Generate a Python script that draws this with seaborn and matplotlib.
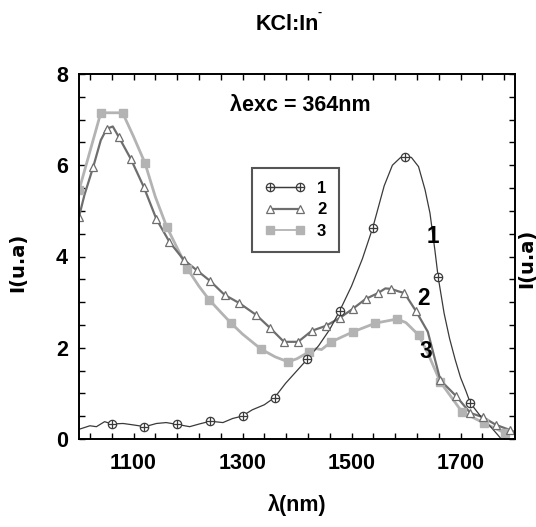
import numpy as np
import pandas as pd
import matplotlib
matplotlib.use('Agg')
import matplotlib.pyplot as plt
import seaborn as sns
from matplotlib import font_manager
from matplotlib.lines import Line2D
from matplotlib.legend_handler import HandlerTuple
from matplotlib.ticker import FixedLocator, MultipleLocator

# curve 1 (KCl:In, band 1) - line trace and marker positions
x1_line = [1002, 1020, 1032, 1047, 1060, 1081, 1099, 1121, 1142, 1160, 1180, 1203, 1221, 1241,
           1264, 1282, 1299, 1318, 1340, 1359, 1379, 1419, 1440, 1460, 1478, 1500, 1520, 1539,
           1560, 1575, 1590, 1600, 1610, 1623, 1635, 1644, 1653, 1659, 1670, 1680, 1690, 1700,
           1710, 1718, 1738, 1756, 1772, 1785]
y1_line = [0.22, 0.29, 0.27, 0.38, 0.33, 0.34, 0.31, 0.27, 0.34, 0.36, 0.32, 0.27, 0.33, 0.39,
           0.36, 0.45, 0.50, 0.64, 0.75, 0.91, 1.22, 1.75, 2.05, 2.40, 2.80, 3.35, 3.95, 4.63,
           5.55, 6.00, 6.17, 6.20, 6.17, 5.97, 5.46, 4.95, 4.14, 3.55, 2.75, 2.20, 1.75, 1.35,
           1.05, 0.79, 0.48, 0.26, 0.04, -0.15]
x1_mark = [1060, 1120, 1179, 1241, 1300, 1360, 1418, 1478, 1539, 1599, 1659, 1718]
y1_mark = [0.33, 0.26, 0.33, 0.39, 0.50, 0.90, 1.75, 2.80, 4.63, 6.18, 3.55, 0.79]

# curve 2
x2_line = [1000, 1010, 1026, 1040, 1051, 1062, 1073, 1095, 1119, 1142, 1166, 1192, 1216, 1241,
           1267, 1294, 1325, 1351, 1376, 1402, 1427, 1453, 1478, 1502, 1526, 1549, 1562, 1573,
           1585, 1597, 1618, 1640, 1663, 1692, 1718, 1741, 1765, 1790, 1800]
y2_line = [4.87, 5.35, 5.96, 6.55, 6.80, 6.85, 6.62, 6.14, 5.52, 4.82, 4.32, 3.93, 3.70, 3.46,
           3.16, 2.98, 2.72, 2.43, 2.13, 2.13, 2.37, 2.48, 2.65, 2.85, 3.07, 3.20, 3.30, 3.29,
           3.24, 3.20, 2.81, 2.35, 1.29, 0.94, 0.57, 0.48, 0.31, 0.20, 0.15]
x2_mark = [1000, 1026, 1051, 1073, 1095, 1119, 1142, 1166, 1192, 1216, 1241, 1267, 1294, 1325,
           1351, 1376, 1402, 1427, 1453, 1478, 1502, 1526, 1549, 1573, 1597, 1618, 1663, 1692,
           1718, 1741, 1765, 1790]
y2_mark = [4.87, 5.96, 6.80, 6.62, 6.14, 5.52, 4.82, 4.32, 3.93, 3.70, 3.46, 3.16, 2.98, 2.72,
           2.43, 2.13, 2.13, 2.37, 2.48, 2.65, 2.85, 3.07, 3.20, 3.29, 3.20, 2.81, 1.29, 0.94,
           0.57, 0.48, 0.31, 0.20]

# curve 3
x3_line = [1000, 1040, 1080, 1100, 1121, 1140, 1161, 1180, 1199, 1220, 1239, 1260, 1279, 1300,
           1334, 1360, 1384, 1400, 1422, 1435, 1445, 1463, 1503, 1544, 1584, 1600, 1623, 1640,
           1663, 1703, 1743, 1782, 1800]
y3_line = [5.45, 7.15, 7.15, 6.63, 6.05, 5.31, 4.65, 4.19, 3.73, 3.35, 3.05, 2.78, 2.54, 2.30,
           1.97, 1.80, 1.69, 1.76, 1.91, 1.98, 1.96, 2.13, 2.35, 2.54, 2.63, 2.55, 2.28, 1.88,
           1.25, 0.59, 0.35, 0.13, 0.13]
x3_mark = [1000, 1040, 1080, 1121, 1161, 1199, 1239, 1279, 1334, 1384, 1422, 1463, 1503, 1544,
           1584, 1623, 1663, 1703, 1743, 1782]
y3_mark = [5.45, 7.15, 7.15, 6.05, 4.65, 3.73, 3.05, 2.54, 1.97, 1.69, 1.91, 2.13, 2.35, 2.54,
           2.63, 2.28, 1.25, 0.59, 0.35, 0.13]

x_major = [1100, 1300, 1500, 1700]
y_major = [0, 2, 4, 6, 8]

sns.set_style('ticks')

# narrow bold face if there is one, otherwise Liberation Sans (Arial metrics)
installed = {f.name for f in font_manager.fontManager.ttflist}
if 'Liberation Sans Narrow' in installed:
    MAIN = 'Liberation Sans Narrow'
    fs = 17.5
else:
    MAIN = 'Liberation Sans'
    fs = 15.5
plt.rcParams['font.family'] = [MAIN, 'DejaVu Sans']
plt.rcParams['font.weight'] = 'bold'
for k in ['text.color', 'axes.labelcolor', 'xtick.color', 'ytick.color']:
    plt.rcParams[k] = 'black'

c1, c2, c3 = '#3a3a3a', '#6e6e6e', '#b3b3b3'

fig = plt.figure(figsize=(5.36, 5.27), dpi=100)
ax = fig.add_axes([79 / 536, 88 / 527, 436 / 536, 365 / 527])

df1 = pd.DataFrame({'x': x1_line, 'y': y1_line})
df2 = pd.DataFrame({'x': x2_line, 'y': y2_line})
df3 = pd.DataFrame({'x': x3_line, 'y': y3_line})

sns.lineplot(data=df3, x='x', y='y', ax=ax, color=c3, lw=2.0, sort=False, estimator=None)
sns.lineplot(data=df2, x='x', y='y', ax=ax, color=c2, lw=1.6, sort=False, estimator=None)
sns.lineplot(data=df1, x='x', y='y', ax=ax, color=c1, lw=0.9, sort=False, estimator=None)

ax.plot(x3_mark, y3_mark, ls='none', marker='s', ms=6, mfc=c3, mec=c3)
ax.plot(x2_mark, y2_mark, ls='none', marker='^', ms=6, mfc='white', mec=c2, mew=0.9)
ax.plot(x1_mark, y1_mark, ls='none', marker='o', ms=6, mfc='white', mec=c1, mew=0.9)
ax.plot(x1_mark, y1_mark, ls='none', marker='+', ms=6, mec=c1, mew=0.9)

ax.set_xlim(1000, 1800)
ax.set_ylim(0, 8)
ax.xaxis.set_major_locator(FixedLocator(x_major))
ax.xaxis.set_minor_locator(FixedLocator([v for v in range(1020, 1800, 40) if v not in x_major]))
ax.yaxis.set_major_locator(FixedLocator(y_major))
ax.yaxis.set_minor_locator(MultipleLocator(0.5))
ax.tick_params(which='both', direction='in', top=True, right=True, length=4, width=1, colors='black')
ax.tick_params(axis='x', which='major', labelsize=fs, pad=10)
ax.tick_params(axis='y', which='major', labelsize=fs, pad=8)
for s in ax.spines.values():
    s.set_linewidth(1.4)
    s.set_color('black')
ax.set_xlabel('')
ax.set_ylabel('')

# legend
h1o = Line2D([], [], color=c1, lw=0.9, marker='o', ms=6, mfc='white', mec=c1, mew=0.9)
h1p = Line2D([], [], color=c1, lw=0.9, marker='+', ms=6, mec=c1, mew=0.9)
h2 = Line2D([], [], color=c2, lw=1.6, marker='^', ms=6, mfc='white', mec=c2, mew=0.9)
h3 = Line2D([], [], color=c3, lw=1.3, marker='s', ms=6, mfc=c3, mec=c3)
leg = ax.legend([(h1o, h1p), h2, h3], ['1', '2', '3'], loc='upper left',
                bbox_to_anchor=(0.397, 0.742), fontsize=12, numpoints=2,
                handlelength=2.4, handletextpad=0.75, labelspacing=0.4,
                borderpad=0.75, borderaxespad=0, fancybox=False, framealpha=1,
                edgecolor='#555555', handler_map={tuple: HandlerTuple(ndivide=1)})
leg.get_frame().set_linewidth(1.5)

ax.text(1406, 7.30, 'λexc = 364nm', ha='center', va='center', fontsize=fs, fontweight='bold')
ax.text(1650, 4.43, '1', ha='center', va='center', fontsize=fs * 1.05, fontweight='bold')
ax.text(1632, 3.07, '2', ha='center', va='center', fontsize=fs * 1.05, fontweight='bold')
ax.text(1636, 1.91, '3', ha='center', va='center', fontsize=fs * 1.05, fontweight='bold')

fig.text(256 / 536, 1 - 24 / 527, 'KCl:In', ha='left', va='center', fontsize=fs, fontweight='bold')
fig.text(318 / 536, 1 - 13 / 527, '-', ha='left', va='center', fontsize=9, fontweight='bold')
fig.text(297 / 536, 1 - 505 / 527, 'λ(nm)', ha='center', va='center', fontsize=fs, fontweight='bold')
fig.text(18 / 536, 1 - 262 / 527, 'I(u.a)', ha='center', va='center', rotation=90,
         fontsize=14, fontweight='bold', family='DejaVu Sans')
fig.text(517 / 536, 1 - 258 / 527, 'I(u.a)', ha='left', va='center', rotation=90,
         fontsize=14, fontweight='bold', family='DejaVu Sans')

fig.savefig('out.png', dpi=100)
